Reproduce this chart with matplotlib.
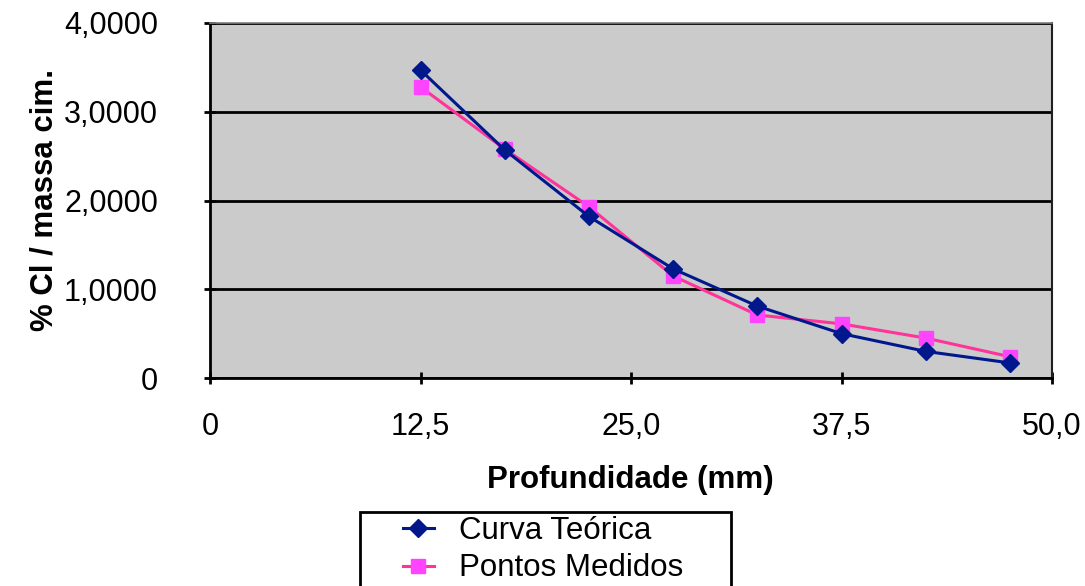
import matplotlib
matplotlib.use("Agg")
from matplotlib import pyplot as plt
from matplotlib.patches import Rectangle
from matplotlib.ticker import FuncFormatter

plt.rcParams['font.family'] = ['Liberation Sans', 'DejaVu Sans']

# Profundidade (mm)
profundidade = [12.5, 17.5, 22.5, 27.5, 32.5, 37.5, 42.5, 47.5]
# % Cl / massa cim.
curva_teorica = [3.47, 2.57, 1.82, 1.23, 0.81, 0.50, 0.30, 0.17]
pontos_medidos = [3.28, 2.58, 1.93, 1.15, 0.71, 0.61, 0.45, 0.24]

x_ticks = [0, 12.5, 25, 37.5, 50]
y_ticks = [0, 1, 2, 3, 4]


def fmt_x(v, pos):
    return "0" if v == 0 else "{:.1f}".format(v).replace(".", ",")


def fmt_y(v, pos):
    return "0" if v == 0 else "{:.4f}".format(v).replace(".", ",")


W, H = 1085, 586
fig = plt.figure(figsize=(W / 100, H / 100), dpi=100)
ax = fig.add_axes([210 / W, 1 - 378 / H, 842 / W, 355 / H])
ax.set_facecolor('#CBCBCB')

ax.plot(profundidade, curva_teorica, color='#00188C', lw=2.2, marker='D',
        markersize=9, markerfacecolor='#00188C', markeredgecolor='#00188C',
        label='Curva Teórica', zorder=4)
ax.plot(profundidade, pontos_medidos, color='#FF3399', lw=2.2, marker='s',
        markersize=9.5, markerfacecolor='#FF44FF', markeredgecolor='#FF44FF',
        label='Pontos Medidos', zorder=3)

ax.set_xlim(0, 50)
ax.set_ylim(0, 4)
ax.set_xticks(x_ticks)
ax.set_yticks(y_ticks)
ax.xaxis.set_major_formatter(FuncFormatter(fmt_x))
ax.yaxis.set_major_formatter(FuncFormatter(fmt_y))

ax.grid(axis='y', color='black', lw=2)
ax.set_axisbelow(True)

ax.tick_params(axis='both', direction='inout', length=9, width=2,
               labelsize=22, colors='black')
ax.tick_params(axis='x', pad=20)
ax.tick_params(axis='y', pad=33)

ax.spines['left'].set_linewidth(2)
ax.spines['bottom'].set_linewidth(2)
ax.spines['top'].set_color('#808080')
ax.spines['top'].set_linewidth(1.2)
ax.spines['right'].set_color('#202020')
ax.spines['right'].set_linewidth(1.5)

fig.text(630 / W, 1 - 480 / H, 'Profundidade (mm)', fontsize=22.5,
         fontweight='bold', ha='center', va='center')
fig.text(45 / W, 1 - 200 / H, '% Cl / massa cim.', fontsize=22.5,
         fontweight='bold', ha='center', va='center', rotation=90)

# legend frame (runs off the bottom edge like the original)
fig.patches.append(Rectangle((360 / W, -0.05), 371 / W, 0.05 + 1 - 512 / H,
                             transform=fig.transFigure, facecolor='white',
                             edgecolor='black', lw=2, zorder=1))
leg = fig.legend(loc='upper left', bbox_to_anchor=(398 / W, 1 - 511 / H),
                 fontsize=22.5, frameon=False, handlelength=1.0,
                 handletextpad=0.8, borderpad=0.15, labelspacing=0.25,
                 borderaxespad=0)
leg.set_zorder(2)

fig.savefig('out.png', dpi=100)
